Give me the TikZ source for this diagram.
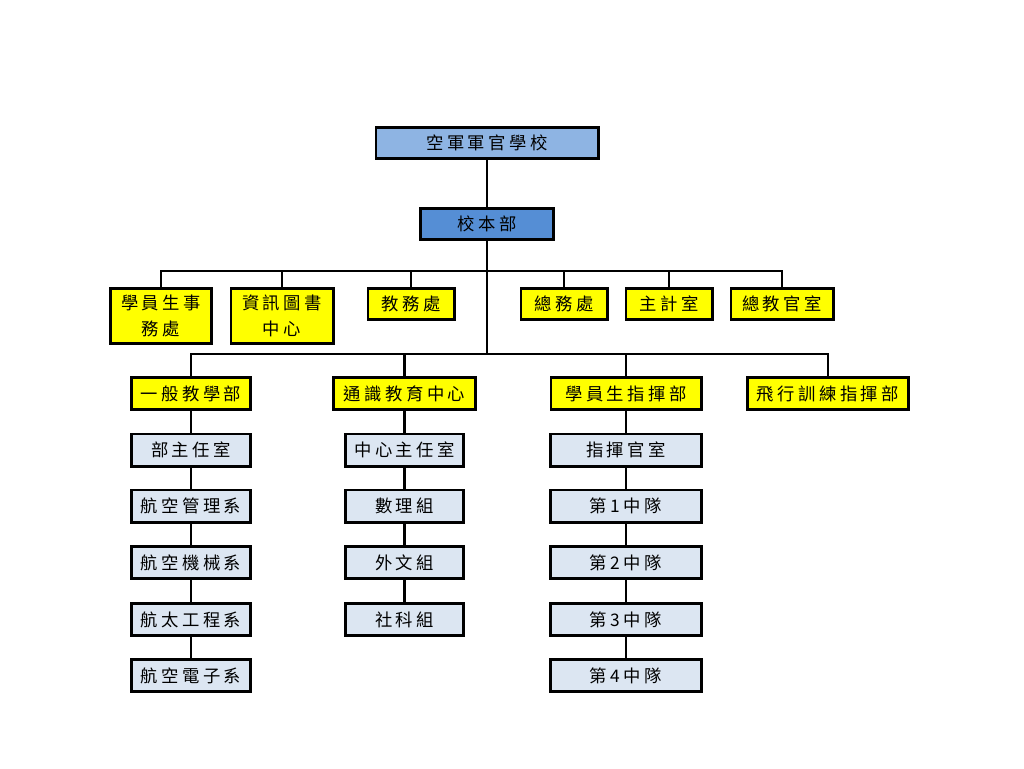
\documentclass[tikz,border=0pt]{standalone}
\usepackage{fontspec}
\newfontfamily\cjk{Noto Sans CJK TC}[LetterSpace=20]
\definecolor{topblue}{HTML}{8EB4E3}
\definecolor{midblue}{HTML}{558ED5}
\definecolor{yelbox}{HTML}{FFFF00}
\definecolor{palebox}{HTML}{DCE6F2}
\tikzset{
  box/.style={draw=black, line width=1.9pt, inner sep=0pt, align=center,
    font=\cjk\fontsize{13}{19}\selectfont, text=black},
  sz/.style 2 args={minimum width=#1*0.75pt-1.9pt, minimum height=#2*0.75pt-1.9pt},
  topbox/.style={box, fill=topblue},
  hqbox/.style={box, fill=midblue},
  ybox/.style={box, fill=yelbox},
  pbox/.style={box, fill=palebox},
  conn/.style={line width=2.2pt, draw=black},
  thinconn/.style={line width=0.8pt, draw=black}
}
\begin{document}
\begin{tikzpicture}[x=0.75pt,y=-0.75pt]
\useasboundingbox (0,0) rectangle (1024,768);
\fill[white] (0,0) rectangle (1024,768);

% top
\node[topbox, sz={225}{34}] (top) at (487,143) {空軍軍官學校};
\node[hqbox, sz={136}{34}] (hq) at (487,224) {校本部};

% first row of offices
\node[ybox, sz={104}{58}] (y1) at (161,316) {學員生事\\務處};
\node[ybox, sz={105}{58}] (y2) at (282,316) {資訊圖書\\中心};
\node[ybox, sz={89}{34}] (y3) at (411,304) {教務處};
\node[ybox, sz={89}{34}] (y4) at (564,304) {總務處};
\node[ybox, sz={89}{34}] (y5) at (669,304) {主計室};
\node[ybox, sz={105}{34}] (y6) at (782,304) {總教官室};

% second row
\node[ybox, sz={122}{35}] (m1) at (191,393.5) {一般教學部};
\node[ybox, sz={145}{35}] (m2) at (404.5,393.5) {通識教育中心};
\node[ybox, sz={153}{35}] (m3) at (626,393.5) {學員生指揮部};
\node[ybox, sz={164}{35}] (m4) at (828,393.5) {飛行訓練指揮部};

% column 1
\node[pbox, sz={122}{35}] (a1) at (191,450) {部主任室};
\node[pbox, sz={122}{35}] (a2) at (191,506) {航空管理系};
\node[pbox, sz={122}{35}] (a3) at (191,562.5) {航空機械系};
\node[pbox, sz={122}{35}] (a4) at (191,619.5) {航太工程系};
\node[pbox, sz={122}{35}] (a5) at (191,675.5) {航空電子系};

% column 2
\node[pbox, sz={121}{35}] (b1) at (404.5,450) {中心主任室};
\node[pbox, sz={121}{35}] (b2) at (404.5,506) {數理組};
\node[pbox, sz={121}{35}] (b3) at (404.5,562.5) {外文組};
\node[pbox, sz={121}{35}] (b4) at (404.5,619.5) {社科組};

% column 3
\node[pbox, sz={154}{35}] (c1) at (626,450) {指揮官室};
\node[pbox, sz={154}{35}] (c2) at (626,506) {第1中隊};
\node[pbox, sz={154}{35}] (c3) at (626,562.5) {第2中隊};
\node[pbox, sz={154}{35}] (c4) at (626,619.5) {第3中隊};
\node[pbox, sz={154}{35}] (c5) at (626,675.5) {第4中隊};

% connectors
\coordinate (busA) at (487,271);
\coordinate (busB) at (487,354);
\draw[conn] (top.south) -- (hq.north);
\draw[conn] (hq.south) -- (busB);
\draw[conn] (y1.north) |- (busA) -| (y6.north);
\foreach \n in {y2,y3,y4,y5} \draw[conn] (\n.north) -- (\n.north |- busA);
\draw[conn] (m1.north) |- (busB) -| (m4.north);
\foreach \n in {m2,m3} \draw[conn] (\n.north) -- (\n.north |- busB);

\draw[conn] (m1.south) -- (a1.north);
\draw[conn] (a1.south) -- (a2.north);
\draw[conn] (a2.south) -- (a3.north);
\draw[conn] (a3.south) -- (a4.north);
\draw[thinconn] (a4.south) -- (a5.north);

\draw[conn] (m2.south) -- (b1.north);
\draw[conn] (b1.south) -- (b2.north);
\draw[conn] (b2.south) -- (b3.north);
\draw[conn] (b3.south) -- (b4.north);

\draw[conn] (m3.south) -- (c1.north);
\draw[conn] (c1.south) -- (c2.north);
\draw[conn] (c2.south) -- (c3.north);
\draw[conn] (c3.south) -- (c4.north);
\draw[thinconn] (c4.south) -- (c5.north);
\end{tikzpicture}
\end{document}
